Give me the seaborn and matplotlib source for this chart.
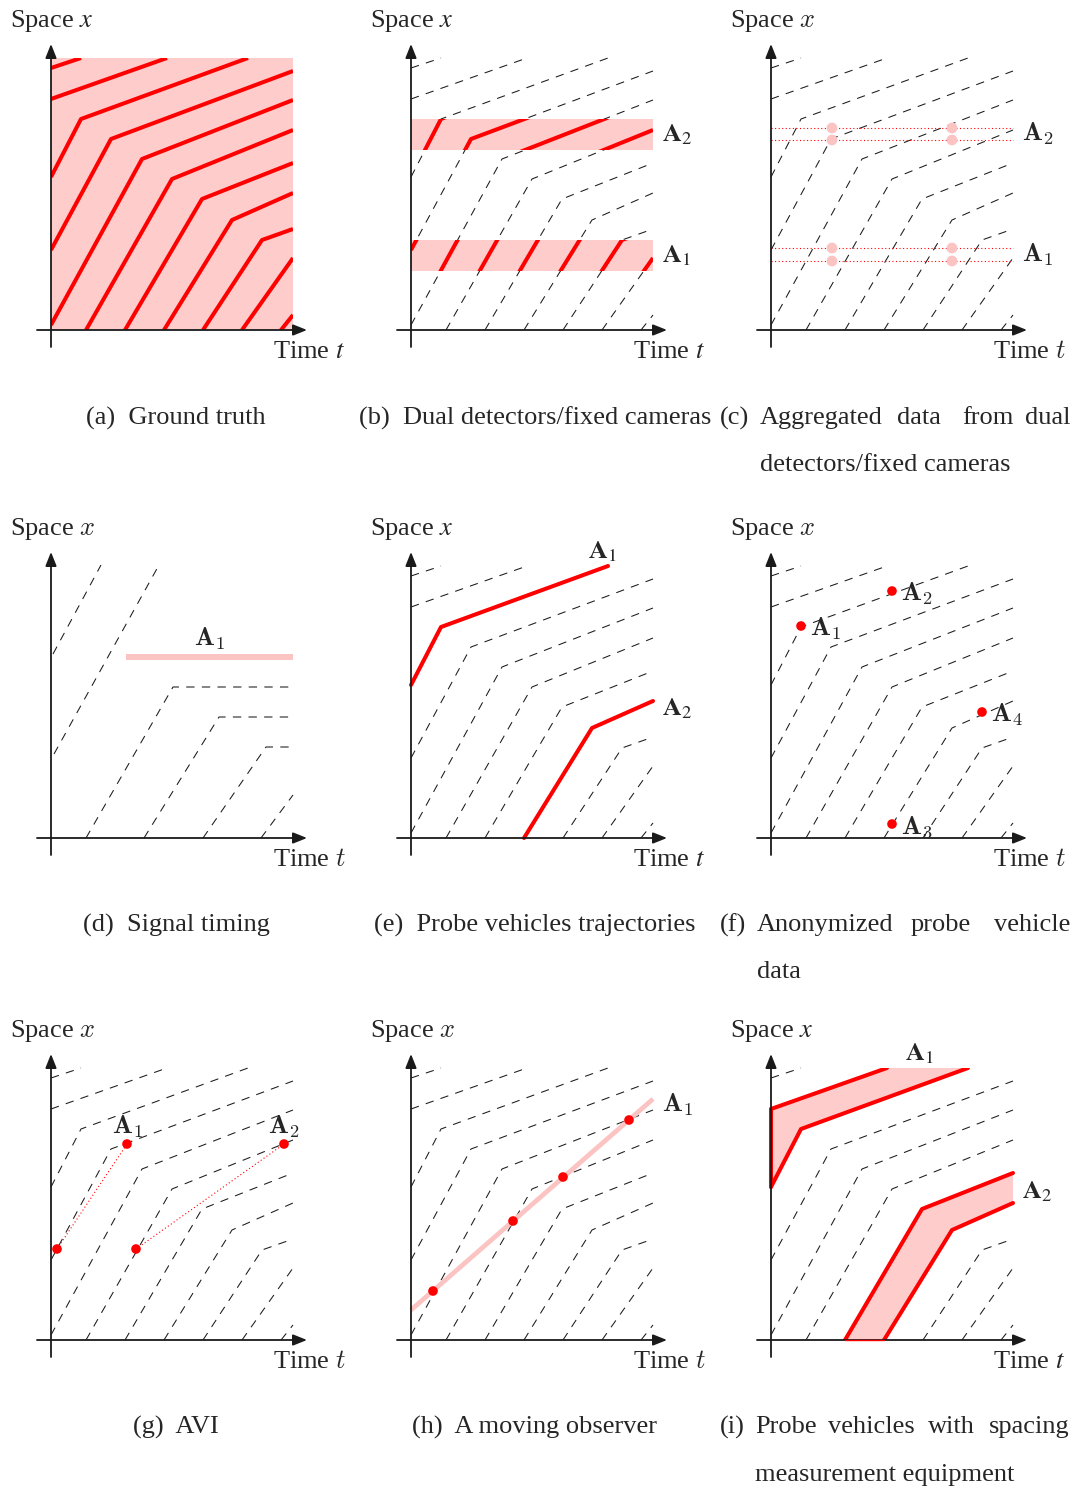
import numpy as np
import pandas as pd
import matplotlib
matplotlib.use("Agg")
import matplotlib.pyplot as plt
from matplotlib.patches import Rectangle
import seaborn as sns

# ---------------- data (time t, space x) ----------------
# base vehicle trajectories (breakpoints)
base_t = [[0, 30], [0, 116], [0, 30, 197], [0, 60, 242], [0, 91, 242],
          [35, 121, 242], [74, 151, 242], [113, 181, 242], [152, 211, 242],
          [191, 242], [230, 242]]
base_x = [[262, 272], [231, 272], [153, 211, 272], [80, 191, 259], [5, 171, 230],
          [0, 151, 200], [0, 131, 167], [0, 110, 137], [0, 90, 101], [0, 72], [0, 15]]

# signal timing trajectories
sig_t = [[2, 50], [3, 108], [35, 122, 242], [93, 168, 242], [152, 215, 242], [210, 242]]
sig_x = [[184, 273], [84, 273], [0, 151, 151], [0, 121, 121], [0, 91, 91], [0, 43]]

box_t = [0, 242]
box_x = [0, 272]

# (b) dual detectors bands
band_lo = [59, 180]
band_hi = [90, 211]
band_names = [r"$\mathbf{A}_1$", r"$\mathbf{A}_2$"]

# (c) aggregated data: detector lines and sampling instants
det_x = [69, 82, 190, 202]
agg_t = [61, 181]

# (d) signal
signal_t = [75, 242]
signal_x = [181, 181]

# (e) probe trajectories (indices into base set)
probe_idx = [2, 7]

# (f) anonymized probe points
anon_t = [30, 121, 121, 211]
anon_x = [212, 247, 14, 126]
anon_names = [r"$\mathbf{A}_1$", r"$\mathbf{A}_2$", r"$\mathbf{A}_3$", r"$\mathbf{A}_4$"]

# (g) AVI pairs
avi_t = [[6, 76], [85, 233]]
avi_x = [[91, 196], [91, 196]]

# (h) moving observer
obs_line_t = [0, 242]
obs_line_x = [30, 241]
obs_t = [22, 102, 152, 218]
obs_x = [49, 119, 163, 220]

# (i) spacing bands (pairs of trajectory indices)
space_pairs = [(1, 2), (6, 7)]

captions_center = {
    "a": ("(a)  Ground truth", 176, 418),
    "b": ("(b)  Dual detectors/fixed cameras", 535, 418),
    "d": ("(d)  Signal timing", 176, 925),
    "e": ("(e)  Probe vehicles trajectories", 535, 925),
    "g": ("(g)  AVI", 176, 1427),
    "h": ("(h)  A moving observer", 535, 1427),
}
captions_just = [
    ([("(c)", 720), ("Aggregated", 760), ("data", 897), ("from", 962)], ("dual", 1070), 418,
     ("detectors/fixed cameras", 760), 465),
    ([("(f)", 720), ("Anonymized", 757), ("probe", 911)], ("vehicle", 1070), 925,
     ("data", 757), 972),
    ([("(i)", 720), ("Probe", 755), ("vehicles", 828), ("with", 928)], ("spacing", 1070), 1427,
     ("measurement equipment", 755), 1475),
]

# ---------------- style ----------------
sns.set_theme(style="white")
plt.rcParams["font.family"] = ["Liberation Serif", "DejaVu Serif"]

W, H = 1078, 1490
RED = "#ff0000"
PINK = "#ffcccc"
LPINK = "#fcc3c3"
FS = 19
DASH = (0, (8, 7))

fig = plt.figure(figsize=(W / 100, H / 100), dpi=100)

col_o = [51, 411, 771]
row_o = [330, 838, 1340]


def make_ax(ox, oy):
    ax = fig.add_axes([(ox - 45) / W, 1 - (oy + 40) / H, 355 / W, 370 / H])
    ax.axis("off")
    return ax


def finish(ax, mf):
    ax.set_xlim(-45, 310)
    ax.set_ylim(-40, 330)
    ax.axis("off")
    ap = dict(arrowstyle="-|>,head_length=0.7,head_width=0.28", color="k", lw=1.3,
              shrinkA=0, shrinkB=0)
    ax.annotate("", xy=(256, 0), xytext=(-14, 0), arrowprops=ap, annotation_clip=False, zorder=6)
    ax.annotate("", xy=(0, 286), xytext=(0, -17), arrowprops=ap, annotation_clip=False, zorder=6)
    ax.text(-41, 303, "Space $x$", fontsize=FS, math_fontfamily=mf, va="baseline", ha="left")
    ax.text(222, -28, "Time $t$", fontsize=FS, math_fontfamily=mf, va="baseline", ha="left")


def traj_df(ts, xs, idx):
    rows = []
    for k in idx:
        for t, x in zip(ts[k], xs[k]):
            rows.append((k, t, x))
    return pd.DataFrame(rows, columns=["traj", "t", "x"])


def draw(ax, ts, xs, idx, **kw):
    n0 = len(ax.lines)
    df = traj_df(ts, xs, idx)
    sns.lineplot(data=df, x="t", y="x", units="traj", estimator=None, sort=False,
                 ax=ax, legend=False, **kw)
    return ax.lines[n0:]


def dashed(ax, ts, xs, idx):
    return draw(ax, ts, xs, idx, color="k", lw=0.75, linestyle=DASH, zorder=1)


def label(ax, t, x, s, mf, ha="left", va="center", fs=FS):
    ax.text(t, x, s, fontsize=fs, math_fontfamily=mf, ha=ha, va=va, zorder=7)


ALL = list(range(len(base_t)))

# (a) ground truth
ax = make_ax(col_o[0], row_o[0])
ax.add_patch(Rectangle((box_t[0], box_x[0]), box_t[1] - box_t[0], box_x[1] - box_x[0],
                       facecolor=PINK, edgecolor="none", zorder=0))
lines = draw(ax, base_t, base_x, ALL, color=RED, lw=2.9, solid_capstyle="butt", zorder=2)
clip = Rectangle((box_t[0], box_x[0]), box_t[1] - box_t[0], box_x[1] - box_x[0],
                 transform=ax.transData)
for ln in lines:
    ln.set_clip_path(clip)
finish(ax, "stix")

# (b) dual detectors
ax = make_ax(col_o[1], row_o[0])
dashed(ax, base_t, base_x, ALL)
for lo, hi, nm in zip(band_lo, band_hi, band_names):
    ax.add_patch(Rectangle((box_t[0], lo), box_t[1] - box_t[0], hi - lo,
                           facecolor=PINK, edgecolor="none", zorder=2))
    lines = draw(ax, base_t, base_x, ALL, color=RED, lw=2.9, solid_capstyle="butt", zorder=3)
    clip = Rectangle((box_t[0], lo), box_t[1] - box_t[0], hi - lo, transform=ax.transData)
    for ln in lines:
        ln.set_clip_path(clip)
    label(ax, 251, (lo + hi) / 2, nm, "stix")
finish(ax, "stix")

# (c) aggregated
ax = make_ax(col_o[2], row_o[0])
dashed(ax, base_t, base_x, ALL)
for xv in det_x:
    ax.plot(box_t, [xv, xv], color=RED, lw=0.8, linestyle=(0, (1, 2.2)), zorder=2)
pts = pd.DataFrame([(t, xv) for xv in det_x for t in agg_t], columns=["t", "x"])
sns.scatterplot(data=pts, x="t", y="x", ax=ax, color=LPINK, s=60, edgecolor="none",
                zorder=3, legend=False)
label(ax, 251, (det_x[2] + det_x[3]) / 2, band_names[1], "cm")
label(ax, 251, (det_x[0] + det_x[1]) / 2, band_names[0], "cm")
finish(ax, "cm")

# (d) signal timing
ax = make_ax(col_o[0], row_o[1])
dashed(ax, sig_t, sig_x, list(range(len(sig_t))))
ax.plot(signal_t, signal_x, color=LPINK, lw=4.3, solid_capstyle="butt", zorder=2)
label(ax, (signal_t[0] + signal_t[1]) / 2, 199, r"$\mathbf{A}_1$", "cm", ha="center")
finish(ax, "cm")

# (e) probe trajectories
ax = make_ax(col_o[1], row_o[1])
dashed(ax, base_t, base_x, [k for k in ALL if k not in probe_idx])
draw(ax, base_t, base_x, probe_idx, color=RED, lw=2.9, zorder=3)
label(ax, 177, 286, r"$\mathbf{A}_1$", "stix")
label(ax, 251, 129, r"$\mathbf{A}_2$", "stix")
finish(ax, "stix")

# (f) anonymized probe data
ax = make_ax(col_o[2], row_o[1])
dashed(ax, base_t, base_x, ALL)
sns.scatterplot(x=anon_t, y=anon_x, ax=ax, color=RED, s=48, edgecolor="none", zorder=4,
                legend=False)
for t, x, nm in zip(anon_t, anon_x, anon_names):
    label(ax, t + 9, x - 3, nm, "cm")
finish(ax, "cm")

# (g) AVI
ax = make_ax(col_o[0], row_o[2])
dashed(ax, base_t, base_x, ALL)
for tt, xx in zip(avi_t, avi_x):
    ax.plot(tt, xx, color=RED, lw=0.8, linestyle=(0, (1, 2.2)), zorder=2)
sns.scatterplot(x=sum(avi_t, []), y=sum(avi_x, []), ax=ax, color=RED, s=48,
                edgecolor="none", zorder=4, legend=False)
label(ax, avi_t[0][1], avi_x[0][1] + 17, r"$\mathbf{A}_1$", "cm", ha="center")
label(ax, avi_t[1][1], avi_x[1][1] + 17, r"$\mathbf{A}_2$", "cm", ha="center")
finish(ax, "cm")

# (h) moving observer
ax = make_ax(col_o[1], row_o[2])
dashed(ax, base_t, base_x, ALL)
ax.plot(obs_line_t, obs_line_x, color=LPINK, lw=3.4, solid_capstyle="butt", zorder=2)
sns.scatterplot(x=obs_t, y=obs_x, ax=ax, color=RED, s=48, edgecolor="none", zorder=4,
                legend=False)
label(ax, 251, 235, r"$\mathbf{A}_1$", "cm")
finish(ax, "cm")

# (i) spacing measurement
ax = make_ax(col_o[2], row_o[2])
used = [k for p in space_pairs for k in p]
dashed(ax, base_t, base_x, [k for k in ALL if k not in used])
clip = Rectangle((-10, 0), 262, 272, transform=ax.transData)
for up, lo in space_pairs:
    ut, ux = base_t[up], base_x[up]
    lt, lx = base_t[lo], base_x[lo]
    poly_t = list(ut) + list(lt[::-1])
    poly_x = list(ux) + list(lx[::-1])
    ax.fill(poly_t, poly_x, color=PINK, lw=0, zorder=2)
    lines = draw(ax, base_t, base_x, [up, lo], color=RED, lw=2.9, zorder=3)
    for ln in lines:
        ln.set_clip_path(clip)
    if ut[0] == 0 and lt[0] == 0:
        ax.plot([0, 0], [lx[0], ux[0]], color=RED, lw=2.9, zorder=3)
    else:
        ax.plot([ut[0], lt[0]], [0, 0], color=RED, lw=1.0, zorder=7)
label(ax, 148, 286, r"$\mathbf{A}_1$", "stix", ha="center")
label(ax, 251, 148, r"$\mathbf{A}_2$", "stix")
finish(ax, "stix")

# ---------------- captions ----------------
for key, (s, cx, cy) in captions_center.items():
    fig.text(cx / W, 1 - cy / H, s, fontsize=FS, ha="center", va="center")

for words, last, y1, line2, y2 in captions_just:
    for w, x in words:
        fig.text(x / W, 1 - y1 / H, w, fontsize=FS, ha="left", va="center")
    fig.text(last[1] / W, 1 - y1 / H, last[0], fontsize=FS, ha="right", va="center")
    fig.text(line2[1] / W, 1 - y2 / H, line2[0], fontsize=FS, ha="left", va="center")

fig.savefig("out.png", dpi=100, facecolor="white")
